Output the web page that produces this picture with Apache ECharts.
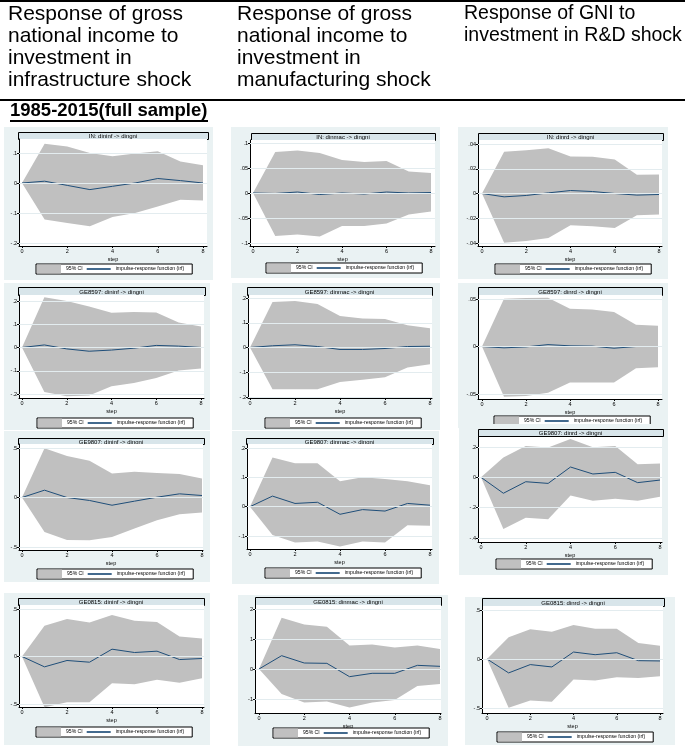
<!DOCTYPE html>
<html>
<head>
<meta charset="utf-8">
<script src="https://cdn.jsdelivr.net/npm/echarts@6/dist/echarts.min.js"></script>
<style>
  html, body { margin: 0; padding: 0; background: #fff; }
  #chart { width: 685px; height: 749px; }
</style>
</head>
<body>
<div id="chart"></div>
<script>
var steps = [0, 1, 2, 3, 4, 5, 6, 7, 8]
var xTicks = [0, 2, 4, 6, 8]

// IN (full sample)
var inInfIrf = [0, 0.006, -0.008, -0.022, -0.011, 0.000, 0.015, 0.008, 0.000]
var inInfHi = [0, 0.131, 0.122, 0.100, 0.089, 0.098, 0.106, 0.072, 0.059]
var inInfLo = [0, -0.122, -0.133, -0.144, -0.113, -0.100, -0.078, -0.056, -0.058]
var inInfTicks = [-0.2, -0.1, 0, 0.1]

var inMacIrf = [0, -0.001, 0.002, -0.003, 0.000, -0.002, 0.002, 0.000, 0.001]
var inMacHi = [0, 0.082, 0.085, 0.080, 0.066, 0.062, 0.064, 0.043, 0.040]
var inMacLo = [0, -0.086, -0.083, -0.087, -0.066, -0.066, -0.061, -0.043, -0.037]
var inMacTicks = [-0.1, -0.05, 0, 0.05, 0.1]

var inRdIrf = [0, -0.0027, -0.0016, 0.0005, 0.0024, 0.0016, 0.0000, -0.0013, -0.0008]
var inRdHi = [0, 0.0338, 0.0350, 0.0365, 0.0300, 0.0297, 0.0275, 0.0151, 0.0154]
var inRdLo = [0, -0.0397, -0.0384, -0.0359, -0.0257, -0.0265, -0.0278, -0.0176, -0.0170]
var inRdTicks = [-0.04, -0.02, 0, 0.02, 0.04]

// GE8597
var g85InfIrf = [0, 0.011, -0.006, -0.016, -0.011, -0.003, 0.009, 0.006, 0.000]
var g85InfHi = [0, 0.216, 0.200, 0.176, 0.150, 0.153, 0.151, 0.107, 0.090]
var g85InfLo = [0, -0.191, -0.210, -0.206, -0.167, -0.153, -0.131, -0.099, -0.090]
var g85InfTicks = [-0.2, -0.1, 0, 0.1, 0.2]

var g85MacIrf = [0, 0.007, 0.011, 0.004, -0.008, -0.008, -0.004, 0.004, 0.005]
var g85MacHi = [0, 0.184, 0.188, 0.176, 0.127, 0.117, 0.115, 0.090, 0.078]
var g85MacLo = [0, -0.169, -0.169, -0.169, -0.139, -0.130, -0.120, -0.081, -0.068]
var g85MacTicks = [-0.2, -0.1, 0, 0.1, 0.2]

var g85RdIrf = [0, -0.0014, -0.0004, 0.0020, 0.0007, 0.0004, -0.0018, 0.0000, 0.0000]
var g85RdHi = [0, 0.0503, 0.0510, 0.0514, 0.0398, 0.0390, 0.0363, 0.0229, 0.0218]
var g85RdLo = [0, -0.0528, -0.0520, -0.0486, -0.0380, -0.0380, -0.0380, -0.0229, -0.0218]
var g85RdTicks = [-0.05, 0, 0.05]

// GE9807
var g98InfIrf = [0, 0.074, 0.000, -0.030, -0.078, -0.037, 0.003, 0.037, 0.020]
var g98InfHi = [0, 0.497, 0.420, 0.370, 0.243, 0.260, 0.247, 0.237, 0.193]
var g98InfLo = [0, -0.348, -0.429, -0.433, -0.399, -0.314, -0.230, -0.169, -0.152]
var g98InfTicks = [-0.5, 0, 0.5]

var g98MacIrf = [0, 0.036, 0.011, 0.015, -0.026, -0.010, -0.015, 0.011, 0.005]
var g98MacHi = [0, 0.168, 0.148, 0.148, 0.087, 0.100, 0.094, 0.087, 0.073]
var g98MacLo = [0, -0.097, -0.122, -0.119, -0.136, -0.119, -0.122, -0.063, -0.065]
var g98MacTicks = [-0.1, 0, 0.1, 0.2]

var g98RdIrf = [0, -0.105, -0.029, -0.040, 0.068, 0.022, 0.033, -0.035, -0.018]
var g98RdHi = [0, 0.130, 0.207, 0.196, 0.253, 0.198, 0.207, 0.086, 0.092]
var g98RdLo = [0, -0.341, -0.266, -0.277, -0.119, -0.154, -0.141, -0.154, -0.128]
var g98RdTicks = [-0.4, -0.2, 0, 0.2]

// GE0815
var g08InfIrf = [0, -0.109, -0.042, -0.060, 0.077, 0.042, 0.056, -0.032, -0.021]
var g08InfHi = [0, 0.324, 0.394, 0.359, 0.437, 0.377, 0.363, 0.211, 0.190]
var g08InfLo = [0, -0.535, -0.482, -0.482, -0.282, -0.292, -0.246, -0.275, -0.229]
var g08InfTicks = [-0.5, 0, 0.5]

var g08MacIrf = [0, 0.444, 0.200, 0.189, -0.256, -0.144, -0.144, 0.122, 0.089]
var g08MacHi = [0, 1.71, 1.48, 1.41, 0.78, 0.82, 0.72, 0.78, 0.67]
var g08MacLo = [0, -0.83, -1.12, -1.08, -1.28, -1.12, -1.03, -0.57, -0.50]
var g08MacTicks = [-1, 0, 1, 2]

var g08RdIrf = [0, -0.142, -0.057, -0.081, 0.071, 0.044, 0.064, -0.017, -0.020]
var g08RdHi = [0, 0.223, 0.304, 0.277, 0.348, 0.308, 0.308, 0.162, 0.135]
var g08RdLo = [0, -0.497, -0.423, -0.436, -0.210, -0.220, -0.186, -0.193, -0.176]
var g08RdTicks = [-0.5, 0, 0.5]

var headers = [
  'Response of gross\nnational income to\ninvestment in\ninfrastructure shock',
  'Response of gross\nnational income to\ninvestment in\nmanufacturing shock',
  'Response of GNI to\ninvestment in R&D shock'
]
var sampleLabel = '1985-2015(full sample)'

var panels = [
  { title: 'IN: dininf -> dingni', irf: inInfIrf, hi: inInfHi, lo: inInfLo, ticks: inInfTicks },
  { title: 'IN: dinmac -> dingni', irf: inMacIrf, hi: inMacHi, lo: inMacLo, ticks: inMacTicks },
  { title: 'IN: dinrd -> dingni', irf: inRdIrf, hi: inRdHi, lo: inRdLo, ticks: inRdTicks },
  { title: 'GE8597: dininf -> dingni', irf: g85InfIrf, hi: g85InfHi, lo: g85InfLo, ticks: g85InfTicks },
  { title: 'GE8597: dinmac -> dingni', irf: g85MacIrf, hi: g85MacHi, lo: g85MacLo, ticks: g85MacTicks },
  { title: 'GE8597: dinrd -> dingni', irf: g85RdIrf, hi: g85RdHi, lo: g85RdLo, ticks: g85RdTicks },
  { title: 'GE9807: dininf -> dingni', irf: g98InfIrf, hi: g98InfHi, lo: g98InfLo, ticks: g98InfTicks },
  { title: 'GE9807: dinmac -> dingni', irf: g98MacIrf, hi: g98MacHi, lo: g98MacLo, ticks: g98MacTicks },
  { title: 'GE9807: dinrd -> dingni', irf: g98RdIrf, hi: g98RdHi, lo: g98RdLo, ticks: g98RdTicks },
  { title: 'GE0815: dininf -> dingni', irf: g08InfIrf, hi: g08InfHi, lo: g08InfLo, ticks: g08InfTicks },
  { title: 'GE0815: dinmac -> dingni', irf: g08MacIrf, hi: g08MacHi, lo: g08MacLo, ticks: g08MacTicks },
  { title: 'GE0815: dinrd -> dingni', irf: g08RdIrf, hi: g08RdHi, lo: g08RdLo, ticks: g08RdTicks }
]

// pixel layout of each small graph (background, title band, plot box, tick pixels, legend)
var layout = [
  { bg: [4, 127, 209, 153], bar: [18, 132, 190, 7], plot: [19, 139, 207, 246], x0: 22, x8: 203, tickPx: [243, 153], leg: [36, 264] },
  { bg: [231, 127, 209, 151], bar: [251, 133, 184, 7], plot: [250, 140, 435, 246], x0: 253, x8: 431, tickPx: [243, 143], leg: [266, 263] },
  { bg: [458, 127, 210, 152], bar: [478, 133, 185, 7], plot: [478, 140, 662, 246], x0: 482, x8: 659, tickPx: [243, 144], leg: [495, 264] },
  { bg: [4, 283, 206, 147], bar: [18, 287, 187, 8], plot: [19, 295, 204, 398], x0: 22, x8: 201, tickPx: [394, 301], leg: [37, 418] },
  { bg: [232, 283, 208, 147], bar: [247, 287, 185, 8], plot: [248, 295, 432, 398], x0: 250, x8: 430, tickPx: [397, 298], leg: [265, 418] },
  { bg: [458, 283, 210, 145], bar: [478, 287, 184, 8], plot: [478, 295, 662, 399], x0: 482, x8: 658, tickPx: [394, 299], leg: [494, 416] },
  { bg: [4, 431, 206, 151], bar: [18, 438, 186, 6], plot: [19, 444, 203, 550], x0: 22, x8: 202, tickPx: [547, 448], leg: [37, 569] },
  { bg: [232, 431, 207, 153], bar: [246, 438, 187, 6], plot: [247, 444, 432, 549], x0: 250, x8: 430, tickPx: [536, 448], leg: [265, 568] },
  { bg: [459, 424, 209, 151], bar: [478, 429, 185, 7], plot: [478, 436, 662, 542], x0: 481, x8: 660, tickPx: [538, 447], leg: [496, 559], cover: true },
  { bg: [4, 593, 206, 152], bar: [18, 598, 186, 7], plot: [19, 605, 204, 707], x0: 22, x8: 202, tickPx: [704, 609], leg: [36, 727] },
  { bg: [238, 595, 210, 151], bar: [255, 597, 186, 8], plot: [255, 605, 441, 713], x0: 259, x8: 440, tickPx: [699, 609], leg: [273, 728] },
  { bg: [465, 597, 210, 148], bar: [482, 598, 182, 8], plot: [482, 606, 663, 713], x0: 487, x8: 660, tickPx: [708, 610], leg: [497, 732] }
]

var FONT = 'Liberation Sans, Arial, Helvetica, sans-serif'
var BG = '#eaf2f3'
var BAND = '#c0c0c0'
var IRF = '#1f4e79'

function stataLabel (v) {
  var s = String(+v.toFixed(4))
  return s.replace(/^(-?)0\./, '$1.')
}

var grids = []
var xAxes = []
var yAxes = []
var series = []
var legends = []
var elements = []

// header
elements.push({ type: 'rect', shape: { x: 0, y: 0, width: 685, height: 2 }, style: { fill: '#000' }, silent: true })
headers.forEach(function (h, i) {
  elements.push({
    type: 'text', x: [8, 237, 464][i], y: 3,
    style: { text: h, fontSize: [21, 21, 19.5][i], lineHeight: 22, fontFamily: FONT, fill: '#000', verticalAlign: 'top' }
  })
})
elements.push({ type: 'rect', shape: { x: 0, y: 99, width: 685, height: 2 }, style: { fill: '#000' }, silent: true })
elements.push({
  type: 'text', x: 10, y: 101,
  style: { text: sampleLabel, fontSize: 18.5, lineHeight: 20, fontWeight: 'bold', fontFamily: FONT, fill: '#000', verticalAlign: 'top' }
})
elements.push({ type: 'rect', shape: { x: 10, y: 120, width: 198, height: 2 }, style: { fill: '#000' }, silent: true })

panels.forEach(function (p, i) {
  var L = layout[i]
  var left = L.plot[0]
  var top = L.plot[1]
  var right = L.plot[2]
  var bottom = L.plot[3]

  // map the pixel layout onto axis extents
  var sx = (L.x8 - L.x0) / 8
  var xmin = (left - L.x0) / sx
  var xmax = 8 + (right - L.x8) / sx
  var t0 = p.ticks[0]
  var t1 = p.ticks[p.ticks.length - 1]
  var sy = (L.tickPx[0] - L.tickPx[1]) / (t1 - t0)
  var ymin = t0 - (bottom - L.tickPx[0]) / sy
  var ymax = t1 + (L.tickPx[1] - top) / sy

  var zBar = L.cover ? 11 : -5
  elements.push({ type: 'rect', shape: { x: L.bg[0], y: L.bg[1], width: L.bg[2], height: L.bg[3] }, style: { fill: BG }, z: -10, silent: true })
  if (L.cover) {
    // this graph sits over the legend of the one above it
    elements.push({ type: 'rect', shape: { x: L.bg[0], y: L.bg[1], width: L.bg[2], height: L.bar[1] - L.bg[1] + 2 }, style: { fill: BG }, z: 10, silent: true })
  }
  elements.push({
    type: 'rect', shape: { x: L.bar[0] + 0.5, y: L.bar[1] + 0.5, width: L.bar[2], height: L.bar[3] },
    style: { fill: '#d8e5ea', stroke: '#000', lineWidth: 1 }, z: zBar, silent: true
  })
  elements.push({
    type: 'text', x: L.bar[0] + L.bar[2] / 2, y: L.bar[1] + L.bar[3] / 2 + 1,
    style: { text: p.title, fontSize: 6, fontFamily: FONT, fill: '#000', align: 'center', verticalAlign: 'middle' },
    z: zBar + 1, silent: true
  })

  grids.push({
    left: left, top: top, width: right - left, height: bottom - top,
    show: true, backgroundColor: '#fff', borderWidth: 0
  })
  xAxes.push({
    gridIndex: i, type: 'value', min: xmin, max: xmax,
    name: 'step', nameLocation: 'middle', nameGap: 10,
    nameTextStyle: { fontSize: 5.5, fontFamily: FONT, color: '#000' },
    axisLine: { onZero: false, lineStyle: { color: '#000', width: 1 } },
    axisTick: { customValues: xTicks, length: 2, lineStyle: { color: '#000' } },
    axisLabel: { customValues: xTicks, fontSize: 5.5, margin: 2, color: '#000', fontFamily: FONT },
    splitLine: { show: false }
  })
  yAxes.push({
    gridIndex: i, type: 'value', min: ymin, max: ymax,
    axisLine: { onZero: false, lineStyle: { color: '#000', width: 1 } },
    axisTick: { customValues: p.ticks, length: 2, lineStyle: { color: '#000' } },
    axisLabel: { customValues: p.ticks, fontSize: 5.5, margin: 2, color: '#000', fontFamily: FONT, formatter: stataLabel },
    splitLine: { show: false }
  })

  // invisible carrier for the light gridlines, drawn under the band
  series.push({
    name: 'grid', type: 'line', xAxisIndex: i, yAxisIndex: i,
    data: steps.map(function (s, k) { return [s, p.lo[k]] }),
    symbol: 'none', lineStyle: { opacity: 0 }, z: 1,
    markLine: {
      silent: true, symbol: ['none', 'none'], label: { show: false },
      lineStyle: { color: '#e3ecef', type: 'solid', width: 1 },
      data: p.ticks.map(function (v) { return { yAxis: v } })
    }
  })
  // 95% CI band as one polygon through the axis scales
  series.push({
    name: '95% CI', type: 'custom', xAxisIndex: i, yAxisIndex: i,
    data: steps.map(function (s, k) { return [s, p.lo[k], p.hi[k]] }),
    encode: { x: 0, y: [1, 2] },
    itemStyle: { color: BAND }, z: 2,
    renderItem: function (params, api) {
      if (params.dataIndex !== 0) return null
      var pts = []
      for (var k = 0; k < steps.length; k++) pts.push(api.coord([steps[k], p.hi[k]]))
      for (var j = steps.length - 1; j >= 0; j--) pts.push(api.coord([steps[j], p.lo[j]]))
      return { type: 'polygon', shape: { points: pts }, style: { fill: BAND } }
    }
  })
  series.push({
    name: 'impulse-response function (irf)', type: 'line', xAxisIndex: i, yAxisIndex: i,
    data: steps.map(function (s, k) { return [s, p.irf[k]] }),
    symbol: 'none', color: IRF, lineStyle: { width: 1, color: IRF }, z: 3
  })

  legends.push({
    left: L.leg[0], top: L.leg[1], orient: 'horizontal', selectedMode: false,
    padding: [0.5, 8, 0.5, 1], itemGap: 4, itemWidth: 24, itemHeight: 9,
    borderColor: '#000', borderWidth: 1, borderRadius: 0, backgroundColor: '#fff',
    textStyle: { fontSize: 5.1, color: '#000', fontFamily: FONT },
    data: [
      { name: '95% CI', icon: 'rect', itemStyle: { color: BAND } },
      { name: 'impulse-response function (irf)', icon: 'path://M0,0H100V7H0Z', itemStyle: { color: IRF } }
    ]
  })
})

var myChart = echarts.init(document.getElementById('chart'))
myChart.setOption({
  animation: false,
  grid: grids,
  xAxis: xAxes,
  yAxis: yAxes,
  legend: legends,
  series: series,
  graphic: { elements: elements }
})
</script>
</body>
</html>
